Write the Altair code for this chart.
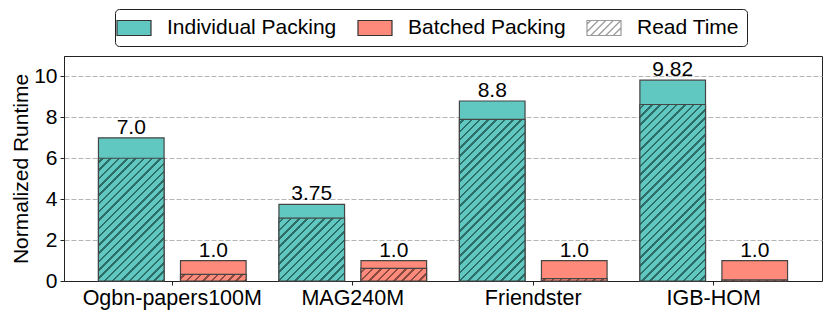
import altair as alt
import pandas as pd

# ---------------- data ----------------
datasets = ["Ogbn-papers100M", "MAG240M", "Friendster", "IGB-HOM"]
series = ["Individual Packing", "Batched Packing"]
legend_items = ["Individual Packing", "Batched Packing", "Read Time"]

individual_total = [7.0, 3.75, 8.8, 9.82]
batched_total = [1.0, 1.0, 1.0, 1.0]
individual_read = [6.0, 3.07, 7.9, 8.63]
batched_read = [0.32, 0.62, 0.12, 0.06]
individual_labels = ["7.0", "3.75", "8.8", "9.82"]
batched_labels = ["1.0", "1.0", "1.0", "1.0"]

y_ticks = [0, 2, 4, 6, 8, 10]
y_max = 11

# ---------------- style ----------------
FONT = "Liberation Sans"
XFS = 21.5
YFS = 21
TFS = 21
VFS = 21
LFS = 21
TEAL = "#60c8c0"
SALMON = "#fd8a7a"
TEAL_HATCH = "#2d6e69"
SALMON_HATCH = "#8c4b41"
EDGE = "#454545"
W, H = 758, 225

totals = pd.DataFrame({
    "dataset": datasets * 2,
    "series": [series[0]] * 4 + [series[1]] * 4,
    "value": individual_total + batched_total,
    "label": individual_labels + batched_labels,
})
reads = pd.DataFrame({
    "dataset": datasets * 2,
    "series": [series[0]] * 4 + [series[1]] * 4,
    "value": individual_read + batched_read,
})
legend_df = pd.DataFrame({"item": legend_items})

# scale geometry (used only to orient hatch stripes at 45 degrees)
x_step = W / (len(datasets) + 2 * 0.1)
off_step = x_step / (2 - 0.2 + 2 * 0.2)
bar_w = off_step * (1 - 0.2)
ppu = H / y_max

x_enc = alt.X(
    "dataset:N", sort=datasets,
    scale=alt.Scale(paddingInner=0, paddingOuter=0.1),
    axis=alt.Axis(title=None, labelAngle=0, labelFontSize=XFS, labelColor="black",
                  tickSize=4, tickColor="#222", domainColor="#222", labelPadding=2,
                  labelFont=FONT),
)
xoff_enc = alt.XOffset(
    "series:N", sort=series,
    scale=alt.Scale(domain=series, paddingInner=0.2, paddingOuter=0.2),
)
y_enc = alt.Y(
    "value:Q",
    scale=alt.Scale(domain=[0, y_max], nice=False),
    axis=alt.Axis(values=y_ticks, title="Normalized Runtime", titleFontSize=TFS,
                  titleFontWeight="normal", titleColor="black", titleFont=FONT,
                  labelFontSize=YFS, labelColor="black", labelFont=FONT,
                  tickSize=4, tickColor="#222", domainColor="#222",
                  grid=True, gridDash=[5, 2], gridColor="#b5b5b5", gridWidth=1,
                  labelPadding=3, titlePadding=2),
)

# legend symbol shapes (unit box: 1 unit = 10 px with size 400)
HX, HY = 1.7, 0.75


def seg_paths(hx, hy, spacing):
    parts = []
    c = -hx - hy + spacing / 2
    while c < hx + hy:
        y_a = max(-hy, c - hx)
        y_b = min(hy, c + hx)
        if y_b - y_a > 1e-3:
            parts.append(f"M{c - y_a:.3f},{y_a:.3f}L{c - y_b:.3f},{y_b:.3f}")
        c += spacing
    return "".join(parts)


rect_path = f"M-{HX},-{HY}H{HX}V{HY}H-{HX}Z"
hatch_path = rect_path + seg_paths(HX, HY, 0.75)

base = alt.Chart(totals)

bars = base.mark_bar(stroke=EDGE, strokeWidth=1.2).encode(
    x=x_enc, xOffset=xoff_enc, y=y_enc,
    fill=alt.Fill("series:N", scale=alt.Scale(domain=series, range=[TEAL, SALMON]), legend=None),
)


def hatch_gradient(w, h, bg, fg, period=8.3, lw=2.5):
    h = max(h, 0.5)
    L = w + h
    s = L / (w * w + h * h)
    stops = [alt.GradientStop(offset=0, color=bg)]
    c = period / 2
    while c - lw / 2 < L:
        a = max(0.0, (c - lw / 2) / L)
        b = min(1.0, (c + lw / 2) / L)
        stops += [alt.GradientStop(offset=a, color=bg), alt.GradientStop(offset=a, color=fg),
                  alt.GradientStop(offset=b, color=fg), alt.GradientStop(offset=b, color=bg)]
        c += period
    stops.append(alt.GradientStop(offset=1, color=bg))
    return alt.LinearGradient(gradient="linear", stops=stops, x1=0, y1=0, x2=w * s, y2=h * s)


hatch_layers = []
for _, row in reads.iterrows():
    is_ind = row["series"] == series[0]
    grad = hatch_gradient(bar_w, row["value"] * ppu,
                          TEAL if is_ind else SALMON,
                          TEAL_HATCH if is_ind else SALMON_HATCH)
    layer = alt.Chart(reads).transform_filter(
        (alt.datum.dataset == row["dataset"]) & (alt.datum.series == row["series"])
    ).mark_bar(fill=grad, stroke=EDGE, strokeWidth=1.2).encode(
        x=x_enc, xOffset=xoff_enc, y=y_enc,
    )
    hatch_layers.append(layer)

labels = base.mark_text(baseline="alphabetic", dy=-4, fontSize=VFS, font=FONT, color="black").encode(
    x=x_enc, xOffset=xoff_enc, y=y_enc, text="label:N",
)

leg = alt.Legend(orient="none", legendX=51, legendY=-47, direction="horizontal", title=None,
                 padding=8, strokeColor="#222", fillColor="white", cornerRadius=4,
                 labelFontSize=LFS, labelFont=FONT, labelColor="black", labelOffset=22,
                 columnPadding=18, symbolStrokeWidth=1.2, labelLimit=400, symbolSize=400,
                 symbolOpacity=1)

legend_layer = alt.Chart(legend_df).mark_point(filled=True, opacity=0, size=400).encode(
    color=alt.Color("item:N", scale=alt.Scale(domain=legend_items, range=[TEAL, SALMON, "white"]),
                    legend=leg),
    shape=alt.Shape("item:N", scale=alt.Scale(domain=legend_items,
                                              range=[rect_path, rect_path, hatch_path]), legend=leg),
    stroke=alt.Stroke("item:N", scale=alt.Scale(domain=legend_items,
                                                range=["#333333", "#333333", "#9a9a9a"]), legend=leg),
)

chart = alt.layer(bars, *hatch_layers, labels, legend_layer).properties(
    width=W, height=H,
    autosize=alt.AutoSizeParams(type="none"),
    padding={"left": 56, "top": 48, "right": 1, "bottom": 30},
).configure(font=FONT).configure_view(stroke="#222", strokeWidth=1)

chart.save("out.html", embed_options={"renderer": "svg", "actions": False})
